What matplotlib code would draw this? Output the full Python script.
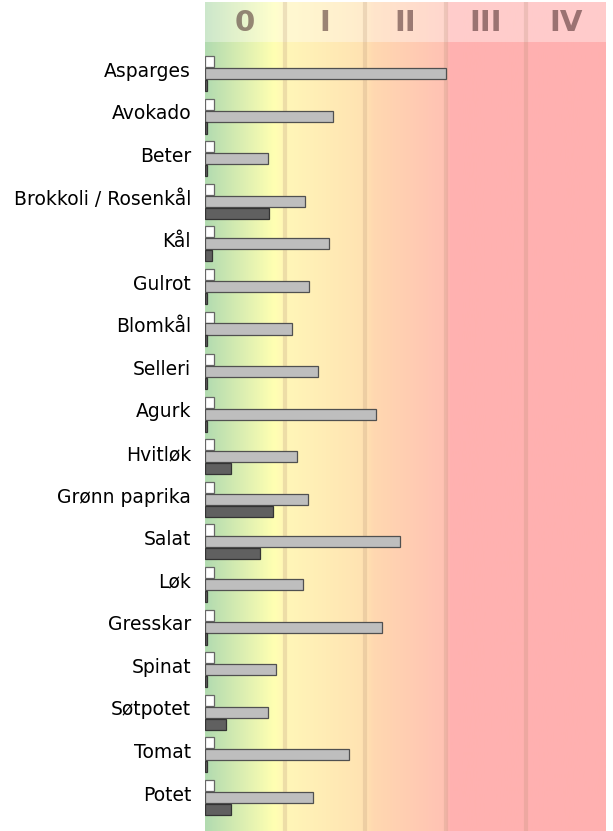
import numpy as np
import matplotlib
matplotlib.use("Agg")
import matplotlib.pyplot as plt
from matplotlib.colors import LinearSegmentedColormap

# categories top to bottom
categories = ["Asparges", "Avokado", "Beter", "Brokkoli / Rosenkål", "Kål",
              "Gulrot", "Blomkål", "Selleri", "Agurk", "Hvitløk",
              "Grønn paprika", "Salat", "Løk", "Gresskar", "Spinat",
              "Søtpotet", "Tomat", "Potet"]

# values in zone units (0..5)
white_vals = [0.11] * 18
gray_vals = [3.00, 1.59, 0.78, 1.25, 1.54, 1.30, 1.08, 1.41, 2.13, 1.15,
             1.29, 2.43, 1.22, 2.21, 0.88, 0.79, 1.80, 1.35]
dark_vals = [0.03, 0.03, 0.03, 0.80, 0.09, 0.03, 0.03, 0.03, 0.03, 0.33,
             0.85, 0.69, 0.03, 0.03, 0.03, 0.26, 0.03, 0.33]

zone_labels = ["0", "I", "II", "III", "IV"]

# background gradient stops (position in zone units, colour)
grad_stops = [(0.0, "#b2dbb0"), (0.85, "#ffffb2"), (1.0, "#fff6b8"),
              (2.0, "#ffe2b2"), (2.1, "#ffd8b0"), (3.0, "#ffc2b4"),
              (3.05, "#ffb2b0"), (5.0, "#ffb0b0")]

fig = plt.figure(figsize=(6.13, 8.31), dpi=100)
ax = fig.add_axes([205 / 613, 0, 401 / 613, 829 / 831])

n = len(categories)
y = np.arange(n)
top = -1.68
bottom = n - 1 + 0.79
head_bottom = -0.74

cmap = LinearSegmentedColormap.from_list(
    "zones", [(p / 5.0, c) for p, c in grad_stops])
grad = np.linspace(0, 1, 600).reshape(1, -1)
ax.imshow(grad, cmap=cmap, aspect="auto", extent=[0, 5, bottom, top],
          zorder=0, interpolation="bilinear")

# lighter header band
ax.fill_between([0, 5], top, head_bottom, color="white", alpha=0.35,
                lw=0, zorder=1)
for k, lab in enumerate(zone_labels):
    ax.text(k + 0.5, (top + head_bottom) / 2 + 0.02, lab, ha="center",
            va="center", fontsize=21, fontweight="bold", color="#4a2a2a",
            alpha=0.55, zorder=2)

for k in range(1, 5):
    ax.axvline(k, color="#b08870", lw=3, alpha=0.22, zorder=1)

h = 0.26
ax.barh(y - 0.28, white_vals, height=h, color="white", edgecolor="#666666",
        lw=0.9, zorder=3)
ax.barh(y, gray_vals, height=h, color="#bebebe", edgecolor="#505050",
        lw=0.9, zorder=3)
ax.barh(y + 0.28, dark_vals, height=h, color="#606060", edgecolor="#333333",
        lw=0.9, zorder=3)

ax.set_xlim(0, 5)
ax.set_ylim(bottom, top)
ax.set_yticks(y - 0.1)
ax.set_yticklabels(categories, fontsize=13.5)
ax.set_xticks([])
ax.tick_params(axis="y", length=0, pad=10)
for s in ax.spines.values():
    s.set_visible(False)

fig.savefig("out.png", dpi=100)
